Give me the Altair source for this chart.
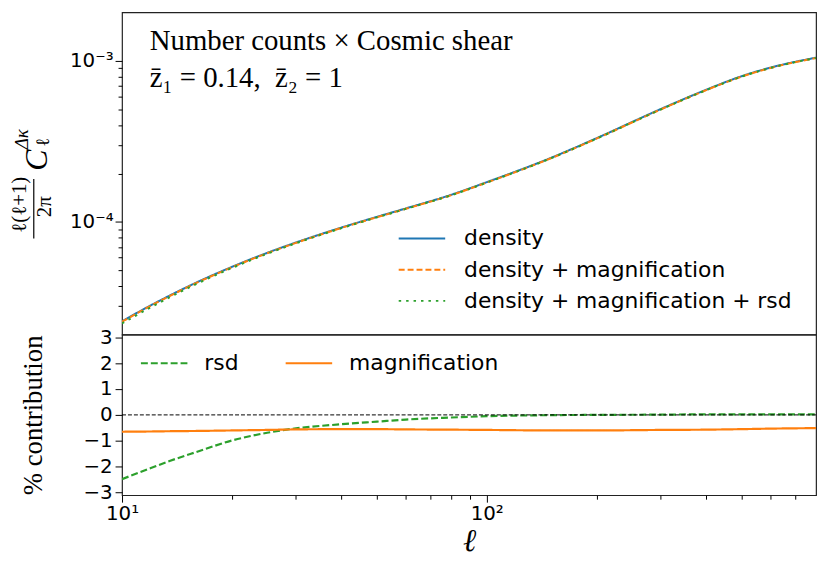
import altair as alt
import pandas as pd

# ---------------- data ----------------
ell = [10, 12, 13.5, 16, 20, 25, 30, 40, 50, 60, 80, 100, 150, 200, 300, 400, 500, 600, 800]
density = [2.42e-5, 3.04e-5, 3.49e-5, 4.21e-5, 5.26e-5, 6.43e-5, 7.46e-5, 9.24e-5, 1.076e-4,
           1.214e-4, 1.476e-4, 1.766e-4, 2.50e-4, 3.31e-4, 5.02e-4, 6.62e-4, 8.03e-4,
           9.08e-4, 1.047e-3]
density_mag = [2.4043e-5, 3.0205e-5, 3.4680e-5, 4.1839e-5, 5.2284e-5, 6.3927e-5, 7.4182e-5,
               9.1892e-5, 1.0701e-4, 1.2072e-4, 1.4676e-4, 1.7558e-4, 2.4850e-4, 3.2901e-4,
               4.9909e-4, 6.5823e-4, 7.9858e-4, 9.0319e-4, 1.0417e-3]
density_mag_rsd = [2.3443e-5, 2.9582e-5, 3.4059e-5, 4.1237e-5, 5.1764e-5, 6.3483e-5, 7.3794e-5,
                   9.1559e-5, 1.0673e-4, 1.2050e-4, 1.4661e-4, 1.7549e-4, 2.4848e-4, 3.2901e-4,
                   4.9914e-4, 6.5836e-4, 7.9874e-4, 9.0337e-4, 1.0419e-3]
rsd_pct = [-2.48, -2.05, -1.78, -1.43, -0.99, -0.69, -0.52, -0.36, -0.26, -0.18, -0.10, -0.05,
           -0.01, 0.0, 0.01, 0.02, 0.02, 0.02, 0.02]
mag_pct = [-0.65, -0.64, -0.63, -0.62, -0.60, -0.58, -0.56, -0.55, -0.55, -0.56, -0.57, -0.58,
           -0.60, -0.60, -0.58, -0.57, -0.55, -0.53, -0.51]

top_series = ["density", "density + magnification", "density + magnification + rsd"]
bottom_series = ["rsd", "magnification"]

x_ticks = [10, 20, 30, 40, 50, 60, 70, 80, 90, 100, 200, 300, 400, 500, 600, 700]
y_top_ticks = [3e-5, 4e-5, 5e-5, 6e-5, 7e-5, 8e-5, 9e-5,
               1e-4, 2e-4, 3e-4, 4e-4, 5e-4, 6e-4, 7e-4, 8e-4, 9e-4, 1e-3]
y_bottom_ticks = [-3, -2, -1, 0, 1, 2, 3]

annotation_lines = ["Number counts \u00d7 Cosmic shear",
                    "z\u0304\u2081 = 0.14,\u00a0\u00a0z\u0304\u2082 = 1"]
ylabel_parts = ["\u2113(\u2113+1)", "2\u03c0", "C", "\u0394\u03ba", "\u2113"]
bottom_ylabel = "% contribution"
xlabel = "\u2113"

# ---------------- styles ----------------
BLUE, ORANGE, GREEN = "#1f77b4", "#ff7f0e", "#2ca02c"
SERIF = "Liberation Serif"
SANS = "DejaVu Sans"
W, H_TOP, H_BOT = 700, 325, 162

top_df = pd.concat([
    pd.DataFrame({"ell": ell, "value": v, "series": s})
    for v, s in zip([density, density_mag, density_mag_rsd], top_series)
])
bot_df = pd.concat([
    pd.DataFrame({"ell": ell, "value": v, "series": s})
    for v, s in zip([rsd_pct, mag_pct], bottom_series)
])

x_scale = alt.Scale(type="log", domain=[10, 800], nice=False)

major_top = "datum.value == 0.001 || datum.value == 0.0001"
major_x = "datum.value == 10 || datum.value == 100"

top_legend = alt.Legend(
    title=None, orient="none", legendX=278, legendY=217, direction="vertical",
    symbolType="stroke", symbolSize=2200, symbolStrokeWidth=2, clipHeight=22,
    rowPadding=9.5, labelFont=SANS, labelFontSize=22, labelOffset=18, labelLimit=0,
    padding=0,
)
bot_legend = alt.Legend(
    title=None, orient="none", legendX=18, legendY=18, direction="horizontal",
    symbolType="stroke", symbolSize=2200, symbolStrokeWidth=2, clipHeight=22,
    columnPadding=46, labelFont=SANS, labelFontSize=22, labelOffset=16, labelLimit=0,
    padding=0,
)

top_lines = alt.Chart(top_df).mark_line(strokeWidth=2, interpolate="monotone", clip=True).encode(
    x=alt.X("ell:Q", scale=x_scale, axis=None),
    y=alt.Y("value:Q", scale=alt.Scale(type="log", domain=[2e-5, 2e-3], nice=False),
            axis=alt.Axis(values=y_top_ticks, title=None, labelOverlap=False, labelFlush=False,
                          labelExpr="datum.value == 0.001 ? '10\u207b\u00b3' : (datum.value == 0.0001 ? '10\u207b\u2074' : '')",
                          tickSize={"condition": {"test": major_top, "value": 7}, "value": 4},
                          labelPadding=2)),
    color=alt.Color("series:N", scale=alt.Scale(domain=top_series, range=[BLUE, ORANGE, GREEN]),
                    legend=top_legend),
    strokeDash=alt.StrokeDash("series:N", scale=alt.Scale(domain=top_series,
                              range=[[1, 0], [6, 3], [2.5, 5]]), legend=top_legend),
)

def text_layer(txt, x, y, size, angle=0, style="normal", align="left", baseline="alphabetic"):
    return alt.Chart(pd.DataFrame({"t": [txt]})).mark_text(
        font=SERIF, fontSize=size, fontStyle=style, angle=angle, align=align,
        baseline=baseline, color="black",
    ).encode(text="t:N", x=alt.value(x), y=alt.value(y))

ann1 = text_layer(annotation_lines[0], 28, 38, 29)
ann2 = text_layer(annotation_lines[1], 28, 75, 29)

num = text_layer(ylabel_parts[0], -103, 194, 21, angle=270, align="center", baseline="middle")
den = text_layer(ylabel_parts[1], -78, 196, 21, angle=270, align="center", baseline="middle")
cee = text_layer(ylabel_parts[2], -86, 149, 32, angle=270, style="italic", align="center", baseline="middle")
sup = text_layer(ylabel_parts[3], -101, 128, 19, angle=270, style="italic", align="center", baseline="middle")
sub = text_layer(ylabel_parts[4], -80, 131, 19, angle=270, align="center", baseline="middle")
bar = alt.Chart(pd.DataFrame({"a": [0]})).mark_rule(color="black", strokeWidth=1.2).encode(
    x=alt.value(-89), y=alt.value(168), y2=alt.value(228))

top = alt.layer(top_lines, ann1, ann2, num, den, cee, sup, sub, bar).properties(width=W, height=H_TOP)

bot_y_scale = alt.Scale(domain=[-3.1, 3.1], nice=False, zero=False)
bot_y_axis = alt.Axis(values=y_bottom_ticks, format="d", title=bottom_ylabel, tickSize=7,
                      labelPadding=3, labelFlush=False, labelOverlap=False,
                      titleFont=SERIF, titleFontSize=27,
                      titleFontWeight="normal", titlePadding=36)

bot_lines = alt.Chart(bot_df).mark_line(strokeWidth=2.2, interpolate="monotone", clip=True).encode(
    x=alt.X("ell:Q", scale=x_scale,
            axis=alt.Axis(values=x_ticks, title=xlabel, labelOverlap=False, labelFlush=False,
                          labelExpr="datum.value == 10 ? '10\u00b9' : (datum.value == 100 ? '10\u00b2' : '')",
                          tickSize={"condition": {"test": major_x, "value": 7}, "value": 4},
                          labelPadding=2, titleFont=SERIF, titleFontSize=32,
                          titleFontStyle="italic", titleFontWeight="normal", titlePadding=2)),
    y=alt.Y("value:Q", scale=bot_y_scale, axis=bot_y_axis),
    color=alt.Color("series:N", scale=alt.Scale(domain=bottom_series, range=[GREEN, ORANGE]),
                    legend=bot_legend),
    strokeDash=alt.StrokeDash("series:N", scale=alt.Scale(domain=bottom_series,
                              range=[[7, 3], [1, 0]]), legend=bot_legend),
)

zero_rule = alt.Chart(pd.DataFrame({"a": [0]})).mark_rule(
    color="black", strokeDash=[4, 2], strokeWidth=1).encode(
    y=alt.Y(datum=0, scale=bot_y_scale, axis=bot_y_axis))

bottom = alt.layer(bot_lines, zero_rule).properties(width=W, height=H_BOT)

chart = alt.vconcat(top, bottom, spacing=0, bounds="flush").resolve_scale(
    x="independent", y="independent", color="independent", strokeDash="independent"
).resolve_legend(color="independent", strokeDash="independent").properties(
    padding={"left": 0, "top": 1, "right": 5, "bottom": 5}
).configure_view(stroke="#222", strokeWidth=1.2).configure_axis(
    domain=False, grid=False, tickColor="black", labelColor="black", labelFont=SANS,
    labelFontSize=20, tickWidth=1, titleColor="black"
)

chart.save("out.html", embed_options={"renderer": "svg", "actions": False})
